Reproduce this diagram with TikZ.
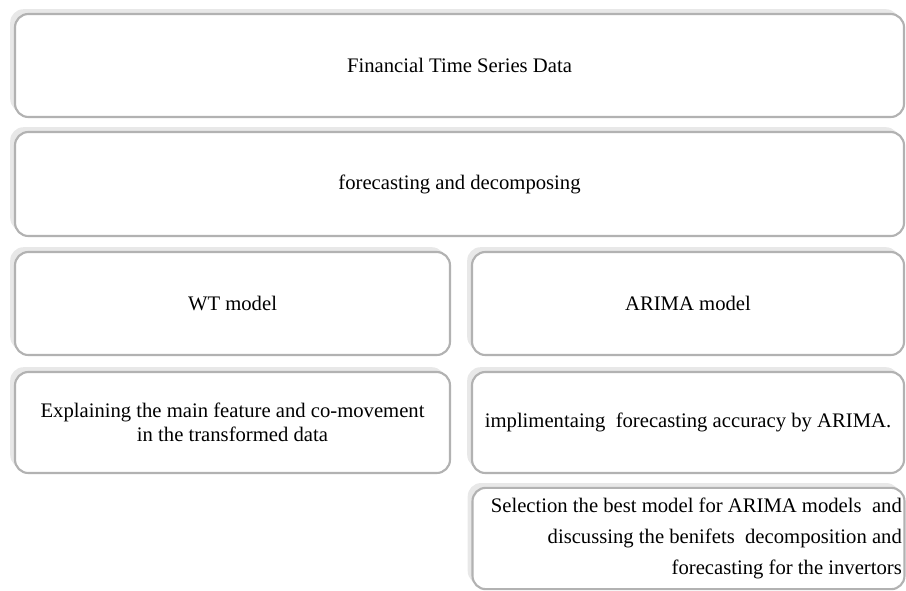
\documentclass[tikz,border=0pt]{standalone}
\usepackage{fontspec}
\setmainfont{Liberation Serif}
\usetikzlibrary{shadows}
\tikzset{
  bevelbox/.style={
    draw=gray!60, line width=1.6pt, fill=white, rounded corners=10pt,
    inner sep=2pt, anchor=center,
    drop shadow={shadow xshift=-3.6pt, shadow yshift=3.6pt, fill=gray!18, opacity=1},
    font=\fontsize{15.5}{18}\selectfont
  }
}
\begin{document}
\begin{tikzpicture}[x=0.75pt,y=-0.75pt]
\useasboundingbox (0,0) rectangle (906,590);
\node[bevelbox, minimum width=666.75pt, minimum height=77.25pt] (data) at (459.5,65.5) {Financial Time Series Data};
\node[bevelbox, minimum width=666.75pt, minimum height=78pt] (fd) at (459.5,184) {forecasting and decomposing};
\node[bevelbox, minimum width=326.25pt, minimum height=77.25pt] (wt) at (232.5,303.5) {WT model};
\node[bevelbox, minimum width=324pt, minimum height=77.25pt] (arima) at (688,303.5) {ARIMA model};
\node[bevelbox, minimum width=326.25pt, minimum height=75.75pt, align=center] (expl) at (232.5,422.5) {Explaining the main feature and co-movement\\in the transformed data};
\node[bevelbox, minimum width=324pt, minimum height=75.75pt] (impl) at (688,422.5) {implimentaing\ \ forecasting accuracy by ARIMA.};
\node[bevelbox, minimum width=323.25pt, minimum height=76pt, text width=320pt, align=flush right, font=\fontsize{15.5}{23}\selectfont] (sel) at (688.5,538.5) {Selection the best model for ARIMA models\ \ and\\discussing the benifets\ \ decomposition and\\forecasting for the invertors};
\end{tikzpicture}
\end{document}
